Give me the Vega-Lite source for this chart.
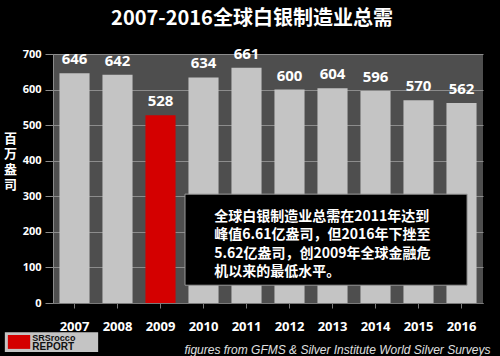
{
  "$schema": "https://vega.github.io/schema/vega-lite/v6.json",
  "width": 430,
  "height": 249,
  "autosize": {"type": "none"},
  "padding": {"left": 53, "top": 54, "right": 17, "bottom": 53},
  "background": "#000000",
  "config": {
    "view": {"fill": "#4e4e4e", "stroke": null},
    "font": "Open Sans",
    "axisY": {
      "values": [0, 100, 200, 300, 400, 500, 600, 700],
      "tickCount": 7,
      "labelOverlap": false,
      "titleAngle": 0,
      "titleColor": "#ffffff",
      "titleFont": "Noto Sans CJK SC",
      "titleFontSize": 13,
      "titleFontWeight": "bold",
      "titleX": -43,
      "titleY": 78,
      "titleAlign": "center",
      "titleBaseline": "top",
      "titleLineHeight": 15.5,
      "labelColor": "#ffffff",
      "labelFontSize": 11,
      "labelFontWeight": "bold",
      "labelPadding": 4,
      "tickSize": 8,
      "tickColor": "#8a8a8a",
      "domainColor": "#8a8a8a",
      "gridColor": "#8c8c8c",
      "gridWidth": 1
    }
  },
  "title": {
    "text": "2007-2016全球白银制造业总需",
    "color": "#ffffff",
    "fontSize": 20,
    "fontWeight": "bold",
    "font": "Noto Sans CJK SC",
    "anchor": "middle",
    "dx": -16,
    "offset": 18
  },
  "datasets": {
    "bars": [
      {"year": "2007", "value": 646, "highlight": "no"},
      {"year": "2008", "value": 642, "highlight": "no"},
      {"year": "2009", "value": 528, "highlight": "yes"},
      {"year": "2010", "value": 634, "highlight": "no"},
      {"year": "2011", "value": 661, "highlight": "no"},
      {"year": "2012", "value": 600, "highlight": "no"},
      {"year": "2013", "value": 604, "highlight": "no"},
      {"year": "2014", "value": 596, "highlight": "no"},
      {"year": "2015", "value": 570, "highlight": "no"},
      {"year": "2016", "value": 562, "highlight": "no"}
    ],
    "box": [{"x1": 3.07, "x2": 9.63, "y1": 50, "y2": 306}],
    "lines": [
      {"line": "全球白银制造业总需在2011年达到", "x": 3.75, "y": 243},
      {"line": "峰值6.61亿盎司，但2016年下挫至", "x": 3.75, "y": 191},
      {"line": "5.62亿盎司，创2009年全球金融危", "x": 3.75, "y": 139},
      {"line": "机以来的最低水平。", "x": 3.75, "y": 88}
    ],
    "logo": [
      {"part": "plate", "x1": -1.12, "x2": 1.05, "y1": -82, "y2": -138},
      {"part": "badge", "x1": -1.05, "x2": -0.53, "y1": -90, "y2": -129}
    ],
    "logotext": [
      {"t": "SRSrocco", "x": -0.48, "y": -86, "s": "top"},
      {"t": "REPORT", "x": -0.48, "y": -138, "s": "bottom"}
    ]
  },
  "layer": [
    {
      "layer": [
        {
          "data": {"name": "bars"},
          "mark": {"type": "bar"},
          "encoding": {
            "x": {
              "field": "year",
              "type": "ordinal",
              "scale": {"paddingInner": 0.3, "paddingOuter": 0.15},
              "axis": {
                "title": "figures from GFMS & Silver Institute World Silver Surveys",
                "titleColor": "#e0e0e0",
                "titleFontStyle": "italic",
                "titleFontWeight": "normal",
                "titleFont": "Liberation Sans",
                "titleFontSize": 12,
                "titleAnchor": "end",
                "titleAlign": "right",
                "titleX": 437,
                "titleY": 46,
                "titleBaseline": "middle",
                "labelAngle": 0,
                "labelColor": "#ffffff",
                "labelFontSize": 13,
                "labelFontWeight": "bold",
                "labelPadding": 12,
                "domainColor": "#7a7a7a",
                "tickColor": "#7a7a7a",
                "tickSize": 5
              }
            },
            "y": {
              "field": "value",
              "type": "quantitative",
              "scale": {"domain": [0, 700], "nice": false},
              "axis": {"title": ["百", "万", "盎", "司"]}
            },
            "color": {
              "field": "highlight",
              "type": "nominal",
              "scale": {"domain": ["no", "yes"], "range": ["#c4c4c4", "#d40000"]},
              "legend": null
            }
          }
        },
        {
          "data": {"name": "bars"},
          "mark": {"type": "text", "dy": -14, "color": "#ffffff", "fontSize": 15, "fontWeight": "bold"},
          "encoding": {
            "x": {"field": "year", "type": "ordinal"},
            "y": {"field": "value", "type": "quantitative", "axis": {"title": ["百", "万", "盎", "司"]}},
            "text": {"field": "value", "type": "quantitative"}
          }
        }
      ]
    },
    {
      "layer": [
        {
          "data": {"name": "box"},
          "mark": {"type": "rect", "fill": "#000000", "stroke": "#9a9a9a", "strokeWidth": 1},
          "encoding": {
            "x": {"field": "x1", "type": "quantitative", "scale": {"domain": [0, 10]}, "axis": null},
            "x2": {"field": "x2"},
            "y": {"field": "y1", "type": "quantitative", "scale": {"domain": [0, 700]}, "axis": null},
            "y2": {"field": "y2"}
          }
        },
        {
          "data": {"name": "lines"},
          "mark": {"type": "text", "align": "left", "baseline": "middle", "color": "#ffffff", "fontSize": 14, "fontWeight": "bold", "font": "Noto Sans CJK SC"},
          "encoding": {
            "x": {"field": "x", "type": "quantitative", "scale": {"domain": [0, 10]}, "axis": null},
            "y": {"field": "y", "type": "quantitative", "scale": {"domain": [0, 700]}, "axis": null},
            "text": {"field": "line", "type": "nominal"}
          }
        },
        {
          "data": {"name": "logo"},
          "mark": {"type": "rect", "clip": false},
          "encoding": {
            "x": {"field": "x1", "type": "quantitative", "scale": {"domain": [0, 10]}, "axis": null},
            "x2": {"field": "x2"},
            "y": {"field": "y1", "type": "quantitative", "scale": {"domain": [0, 700]}, "axis": null},
            "y2": {"field": "y2"},
            "color": {
              "field": "part",
              "type": "nominal",
              "scale": {"domain": ["plate", "badge"], "range": ["#f2f2f2", "#d01010"]},
              "legend": null
            }
          }
        },
        {
          "data": {"name": "logotext"},
          "transform": [{"filter": "datum.s == 'top'"}],
          "mark": {"type": "text", "align": "left", "baseline": "top", "color": "#111111", "fontSize": 9, "fontWeight": "bold", "font": "Liberation Sans", "clip": false},
          "encoding": {
            "x": {"field": "x", "type": "quantitative", "scale": {"domain": [0, 10]}, "axis": null},
            "y": {"field": "y", "type": "quantitative", "scale": {"domain": [0, 700]}, "axis": null},
            "text": {"field": "t", "type": "nominal"}
          }
        },
        {
          "data": {"name": "logotext"},
          "transform": [{"filter": "datum.s == 'bottom'"}],
          "mark": {"type": "text", "align": "left", "baseline": "bottom", "color": "#111111", "fontSize": 10, "fontWeight": "bold", "font": "Liberation Sans", "clip": false},
          "encoding": {
            "x": {"field": "x", "type": "quantitative", "scale": {"domain": [0, 10]}, "axis": null},
            "y": {"field": "y", "type": "quantitative", "scale": {"domain": [0, 700]}, "axis": null},
            "text": {"field": "t", "type": "nominal"}
          }
        }
      ]
    }
  ],
  "resolve": {"scale": {"x": "independent", "y": "independent"}}
}
